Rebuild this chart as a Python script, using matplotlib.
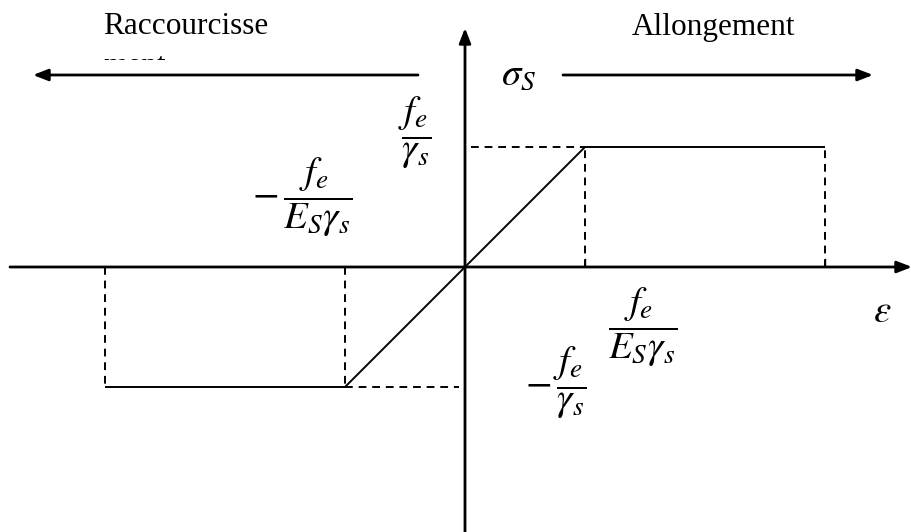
import matplotlib.pyplot as plt
from matplotlib.patches import Rectangle

plt.rcParams['mathtext.fontset'] = 'stix'
plt.rcParams['font.family'] = ['Liberation Serif', 'DejaVu Serif']

# elastic-perfectly plastic steel law (normalised units)
strain = [-3, -1, 1, 3]
stress = [-1, -1, 1, 1]
eps_y = 1
sig_y = 1
eps_u = 3

fig = plt.figure(figsize=(9.12, 5.32), dpi=100)
ax = fig.add_axes([0, 0, 1, 1])
ax.set_xlim(-465 / 120, 447 / 120)
ax.set_ylim(-265 / 120, 267 / 120)
ax.axis('off')

# curve
ax.plot(strain, stress, color='black', lw=1.4, solid_capstyle='butt')

# dashed guides
dash = dict(color='black', lw=1.4, linestyle=(0, (4, 3)))
ax.plot([0.05, eps_y], [sig_y, sig_y], **dash)
ax.plot([eps_y, eps_y], [0, sig_y], **dash)
ax.plot([eps_u, eps_u], [0, sig_y], **dash)
ax.plot([-eps_u, -eps_u], [0, -sig_y], **dash)
ax.plot([-eps_y, -eps_y], [0, -sig_y], **dash)
ax.plot([-eps_y, -0.05], [-sig_y, -sig_y], **dash)

# small ticks on the strain axis
for xt in [eps_y, eps_u]:
    ax.plot([xt, xt], [0.02, 0.07], color='black', lw=1.0)

# axes with arrows
arr = dict(arrowstyle='-|>,head_length=0.9,head_width=0.35', color='black', lw=2.0,
           shrinkA=0, shrinkB=0)
ax.annotate('', xy=(447 / 120, 0), xytext=(-455 / 120, 0), arrowprops=arr)
ax.annotate('', xy=(0, 239 / 120), xytext=(0, -265 / 120), arrowprops=arr)

# direction arrows
ax.annotate('', xy=(-432 / 120, 192 / 120), xytext=(-47 / 120, 192 / 120), arrowprops=arr)
ax.annotate('', xy=(408 / 120, 192 / 120), xytext=(98 / 120, 192 / 120), arrowprops=arr)

ax.text(-362 / 120, 240 / 120, 'Raccourcisse', fontsize=22.5, ha='left', va='center')
# second line of the wrapped label, cut off just under its top
t = ax.text(-362 / 120, 193 / 120, 'ment', fontsize=22.5, ha='left', va='baseline')
t.set_clip_path(Rectangle((-4, 207 / 120), 8, 2, transform=ax.transData))
t.set_clip_on(True)
ax.text(249 / 120, 240 / 120, 'Allongement', fontsize=22.5, ha='center', va='center')

ax.text(54 / 120, 192 / 120, r'$\sigma_S$', fontsize=28, ha='center', va='center')
ax.text(417 / 120, -46 / 120, r'$\varepsilon$', fontsize=28, ha='center', va='center')

ax.text(-50 / 120, 134 / 120, r'$\dfrac{f_e}{\gamma_s}$', fontsize=28, ha='center', va='center')
ax.text(-163 / 120, 70 / 120, r'$-\,\dfrac{f_e}{E_S\gamma_s}$', fontsize=28, ha='center', va='center')
ax.text(178 / 120, -60 / 120, r'$\dfrac{f_e}{E_S\gamma_s}$', fontsize=28, ha='center', va='center')
ax.text(91 / 120, -116 / 120, r'$-\,\dfrac{f_e}{\gamma_s}$', fontsize=28, ha='center', va='center')

fig.savefig('out.png', dpi=100)
